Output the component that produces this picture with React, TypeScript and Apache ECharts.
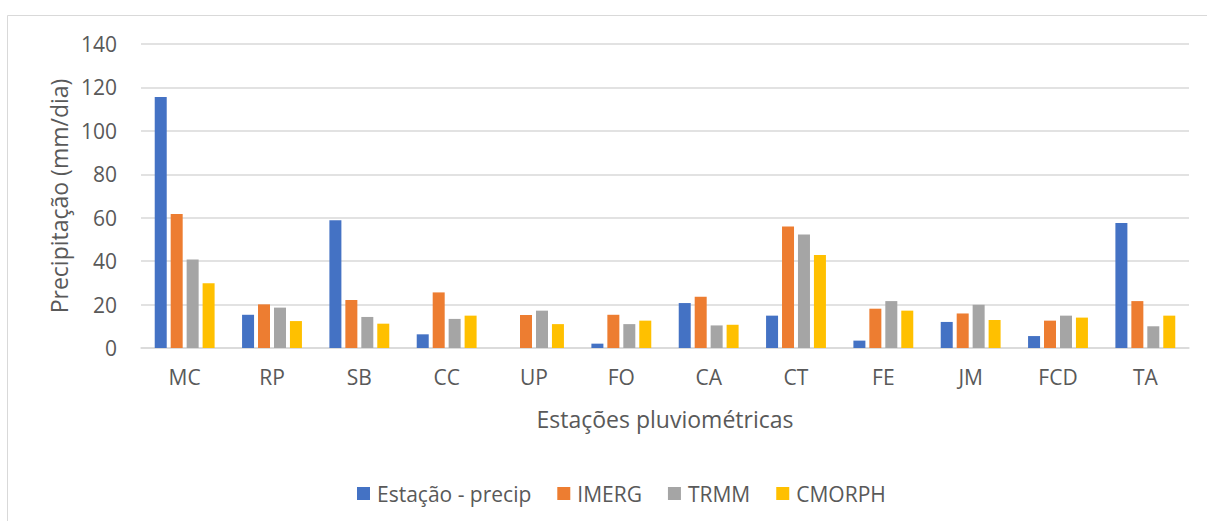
import React, { useEffect, useRef } from "react";
import * as echarts from "echarts";

const categories = ["MC", "RP", "SB", "CC", "UP", "FO", "CA", "CT", "FE", "JM", "FCD", "TA"];
const estacao = [115.6, 15.3, 58.8, 6.3, 0, 2.0, 20.7, 14.9, 3.4, 12.0, 5.5, 57.6];
const imerg = [61.7, 20.1, 22.1, 25.6, 15.2, 15.3, 23.6, 56.0, 18.1, 15.9, 12.6, 21.6];
const trmm = [40.7, 18.6, 14.3, 13.4, 17.2, 11.0, 10.4, 52.3, 21.6, 19.9, 14.9, 10.0];
const cmorph = [29.8, 12.4, 11.2, 14.9, 11.0, 12.6, 10.7, 42.8, 17.2, 12.9, 14.0, 14.9];
const seriesNames = ["Estação - precip", "IMERG", "TRMM", "CMORPH"];
const colors = ["#4472C4", "#ED7D31", "#A5A5A5", "#FFC000"];

const FONT = "Open Sans";
const TEXT = "#595959";

export default function App() {
  const ref = useRef<HTMLDivElement>(null);
  useEffect(() => {
    document.body.style.margin = "0";
    const chart = echarts.init(ref.current!, undefined, { renderer: "svg" });
    const values = [estacao, imerg, trmm, cmorph];
    chart.setOption({
      animation: false,
      backgroundColor: "#ffffff",
      color: colors,
      textStyle: { fontFamily: FONT, color: TEXT },
      graphic: [
        {
          type: "rect",
          shape: { x: 7.5, y: 15.5, width: 1220, height: 520 },
          style: { fill: "none", stroke: "#D9D9D9", lineWidth: 1 },
          silent: true,
        },
      ],
      grid: { left: 141, right: 18, top: 44, bottom: 173, containLabel: false },
      legend: {
        data: seriesNames,
        left: 352,
        top: 478,
        itemWidth: 13,
        itemHeight: 13,
        itemGap: 26,
        icon: "rect",
        textStyle: { fontFamily: FONT, fontSize: 21, color: TEXT, padding: [0, 0, 0, 2] },
      },
      xAxis: {
        type: "category",
        data: categories,
        name: "Estações pluviométricas",
        nameLocation: "middle",
        nameGap: 59,
        nameTextStyle: { fontFamily: FONT, fontSize: 23, color: TEXT },
        axisLine: { lineStyle: { color: "#D9D9D9", width: 1.5 } },
        axisTick: { show: false },
        axisLabel: { fontFamily: FONT, fontSize: 21, color: TEXT, margin: 18 },
      },
      yAxis: {
        type: "value",
        min: 0,
        max: 140,
        interval: 20,
        name: "Precipitação (mm/dia)",
        nameLocation: "middle",
        nameGap: 71,
        nameTextStyle: { fontFamily: FONT, fontSize: 23, color: TEXT },
        axisLine: { show: false },
        axisTick: { show: false },
        splitLine: { lineStyle: { color: "#D9D9D9", width: 1.5 } },
        axisLabel: { fontFamily: FONT, fontSize: 21, color: TEXT, margin: 24 },
      },
      series: seriesNames.map((name, i) => ({
        name,
        type: "bar",
        data: values[i],
        barWidth: 12,
        barGap: "33%",
        itemStyle: { color: colors[i] },
      })),
    });
    return () => chart.dispose();
  }, []);
  return <div ref={ref} style={{ width: 1207, height: 521 }} />;
}
